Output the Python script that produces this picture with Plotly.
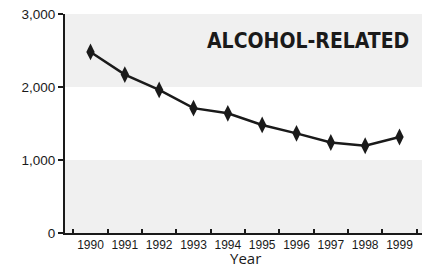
import plotly.graph_objects as go

years = ["1990", "1991", "1992", "1993", "1994", "1995", "1996", "1997", "1998", "1999"]
values = [2480, 2170, 1960, 1710, 1640, 1480, 1365, 1240, 1195, 1315]
y_ticks = [0, 1000, 2000, 3000]
y_labels = ["0", "1,000", "2,000", "3,000"]
bands = [(0, 1000), (2000, 3000)]
title_text = "ALCOHOL-RELATED"
x_title = "Year"

fig = go.Figure()
for lo, hi in bands:
    fig.add_shape(type="rect", xref="paper", yref="y", x0=0, x1=1, y0=lo, y1=hi,
                  fillcolor="#f0f0f0", line_width=0, layer="below")

fig.add_trace(go.Scatter(
    x=years, y=values, mode="lines+markers",
    line=dict(color="#1a1a1a", width=2.5),
    marker=dict(symbol="diamond-tall", size=12, color="#1a1a1a"),
    showlegend=False, cliponaxis=False,
))

fig.add_annotation(text="<b>" + title_text + "</b>", xref="paper", yref="paper",
                   x=0.96, y=0.875, xanchor="right", yanchor="middle", showarrow=False,
                   font=dict(family="DejaVu Sans Condensed", size=21, color="#1a1a1a"))
fig.add_annotation(text=x_title, xref="paper", yref="paper",
                   x=0.5, y=-0.112, xanchor="center", yanchor="middle", showarrow=False,
                   font=dict(family="Open Sans", size=15, color="#1a1a1a"))

fig.update_layout(
    width=422, height=260,
    margin=dict(l=57, r=5, t=6, b=35),
    plot_bgcolor="white", paper_bgcolor="white",
    font=dict(family="Liberation Sans", color="#1a1a1a"),
)
fig.update_xaxes(
    type="category", tickson="boundaries", ticks="inside", ticklen=4, tickwidth=1.5,
    tickcolor="#1a1a1a", showline=True, linecolor="#1a1a1a", linewidth=2,
    showgrid=False, tickfont=dict(family="Liberation Sans", size=12), tickangle=0,
    automargin=False, ticklabeloverflow="allow",
)
fig.update_yaxes(
    range=[0, 3000], tickvals=y_ticks, ticktext=y_labels, ticks="outside", ticklen=5,
    tickwidth=1.5, tickcolor="#1a1a1a", showline=True, linecolor="#1a1a1a", linewidth=2,
    showgrid=False, zeroline=False, tickfont=dict(family="Liberation Sans", size=13.5),
    automargin=False, ticklabeloverflow="allow",
)

fig.write_html("out.html")
